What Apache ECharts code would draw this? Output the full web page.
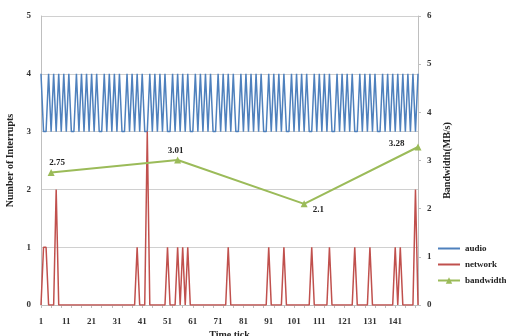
<!DOCTYPE html>
<html>
<head>
<meta charset="utf-8">
<script src="https://cdn.jsdelivr.net/npm/echarts@6/dist/echarts.min.js"></script>
<style>
  html, body { margin: 0; padding: 0; background: #fff; }
  #chart { width: 506px; height: 336px; }
</style>
</head>
<body>
<div id="chart"></div>
<script>
// time ticks 1..150
const ticks = [];
for (let i = 1; i <= 150; i++) ticks.push(String(i));

const audio = [
  4,3,3,4,3,4,3,4,3,4,
  3,4,3,3,4,3,4,3,4,3,
  4,3,4,3,3,4,3,4,3,4,
  3,4,3,3,4,3,4,3,4,3,
  4,3,3,4,3,4,3,4,3,4,
  3,3,4,3,4,3,4,3,4,3,
  3,4,3,4,3,4,3,4,3,3,
  4,3,4,3,4,3,4,3,3,4,
  3,4,3,4,3,4,3,4,3,3,
  4,3,4,3,4,3,4,3,3,4,
  3,4,3,4,3,4,3,3,4,3,
  4,3,4,3,4,3,3,4,3,4,
  3,4,3,4,3,3,4,3,4,3,
  4,3,4,3,3,4,3,4,3,4,
  3,4,3,4,3,4,3,4,3,4
];

const network = [
  0,1,1,0,0,0,2,0,0,0,
  0,0,0,0,0,0,0,0,0,0,
  0,0,0,0,0,0,0,0,0,0,
  0,0,0,0,0,0,0,0,1,0,
  0,0,3,0,0,0,0,0,0,0,
  1,0,0,0,1,0,1,0,1,0,
  0,0,0,0,0,0,0,0,0,0,
  0,0,0,0,1,0,0,0,0,0,
  0,0,0,0,0,0,0,0,0,0,
  1,0,0,0,0,0,1,0,0,0,
  0,0,0,0,0,0,0,1,0,0,
  0,0,0,0,1,0,0,0,0,0,
  0,0,0,0,1,0,0,0,0,0,
  1,0,0,0,0,0,0,0,0,0,
  1,0,1,0,0,0,0,0,2,0
];

const bwTicks = ['5', '55', '105', '150'];
const bwValues = [2.75, 3.01, 2.1, 3.28];
const bwLabelPos = ['top', 'top', 'right', 'left'];
const bwLabelOffset = [[6, 3], [-2, 4], [0, 6], [-5, -3]];

const serif = '"Liberation Serif", "DejaVu Serif", serif';

const chart = echarts.init(document.getElementById('chart'));

const bwData = bwTicks.map((t, k) => ({
  value: [t, bwValues[k]],
  label: { position: bwLabelPos[k], offset: bwLabelOffset[k] }
}));

chart.setOption({
  animation: false,
  backgroundColor: '#fff',
  grid: { left: 41, right: 88, top: 16, bottom: 31, outerBoundsMode: 'none', containLabel: false },
  legend: {
    orient: 'vertical',
    left: 432,
    top: 239,
    itemWidth: 22,
    itemHeight: 8,
    itemGap: 7,
    itemTextGap: 3,
    textStyle: { fontFamily: serif, fontWeight: 'bold', fontSize: 9, color: '#222' },
    data: [
      { name: 'audio', itemStyle: { opacity: 0 } },
      { name: 'network', itemStyle: { opacity: 0 } },
      { name: 'bandwidth' }
    ]
  },
  xAxis: {
    type: 'category',
    data: ticks,
    boundaryGap: false,
    name: 'Time tick',
    nameLocation: 'middle',
    nameGap: 24,
    nameTextStyle: { fontFamily: serif, fontWeight: 'bold', fontSize: 10, color: '#222' },
    axisLine: { lineStyle: { color: '#bfbfbf' } },
    axisTick: { interval: 3, length: 3, lineStyle: { color: '#bfbfbf' } },
    axisLabel: {
      interval: 9,
      fontFamily: serif, fontWeight: 'bold', fontSize: 9, color: '#333', margin: 12
    },
    splitLine: { show: false }
  },
  yAxis: [
    {
      type: 'value',
      min: 0, max: 5, interval: 1,
      name: 'Number of Interrupts',
      nameLocation: 'middle',
      nameRotate: 90,
      nameGap: 24,
      nameTextStyle: { fontFamily: serif, fontWeight: 'bold', fontSize: 10, color: '#222' },
      axisLine: { show: true, lineStyle: { color: '#bfbfbf' } },
      axisTick: { show: false },
      axisLabel: { fontFamily: serif, fontWeight: 'bold', fontSize: 9, color: '#333', margin: 10 },
      splitLine: { lineStyle: { color: '#d0d0d0', width: 1 } }
    },
    {
      type: 'value',
      min: 0, max: 6, interval: 1,
      name: 'Bandwidth(MB/s)',
      nameLocation: 'middle',
      nameRotate: 90,
      nameGap: 23,
      nameTextStyle: { fontFamily: serif, fontWeight: 'bold', fontSize: 10, color: '#222' },
      axisLine: { show: true, lineStyle: { color: '#bfbfbf' } },
      axisTick: { show: true, length: 3, lineStyle: { color: '#bfbfbf' } },
      axisLabel: { fontFamily: serif, fontWeight: 'bold', fontSize: 9, color: '#333', margin: 9 },
      splitLine: { show: false }
    }
  ],
  series: [
    {
      name: 'audio',
      type: 'line',
      data: audio,
      symbol: 'none',
      color: '#4F81BD',
      lineStyle: { color: '#4F81BD', width: 1.5 }
    },
    {
      name: 'network',
      type: 'line',
      data: network,
      symbol: 'none',
      color: '#C0504D',
      lineStyle: { color: '#C0504D', width: 1.5 }
    },
    {
      name: 'bandwidth',
      type: 'line',
      yAxisIndex: 1,
      data: bwData,
      symbol: 'triangle',
      symbolSize: 7,
      showSymbol: true,
      showAllSymbol: true,
      color: '#9BBB59',
      lineStyle: { color: '#9BBB59', width: 2 },
      itemStyle: { color: '#9BBB59' },
      label: {
        show: true,
        fontFamily: serif, fontWeight: 'bold', fontSize: 9, color: '#222',
        formatter: p => String(p.value[1])
      }
    }
  ]
});
</script>
</body>
</html>
